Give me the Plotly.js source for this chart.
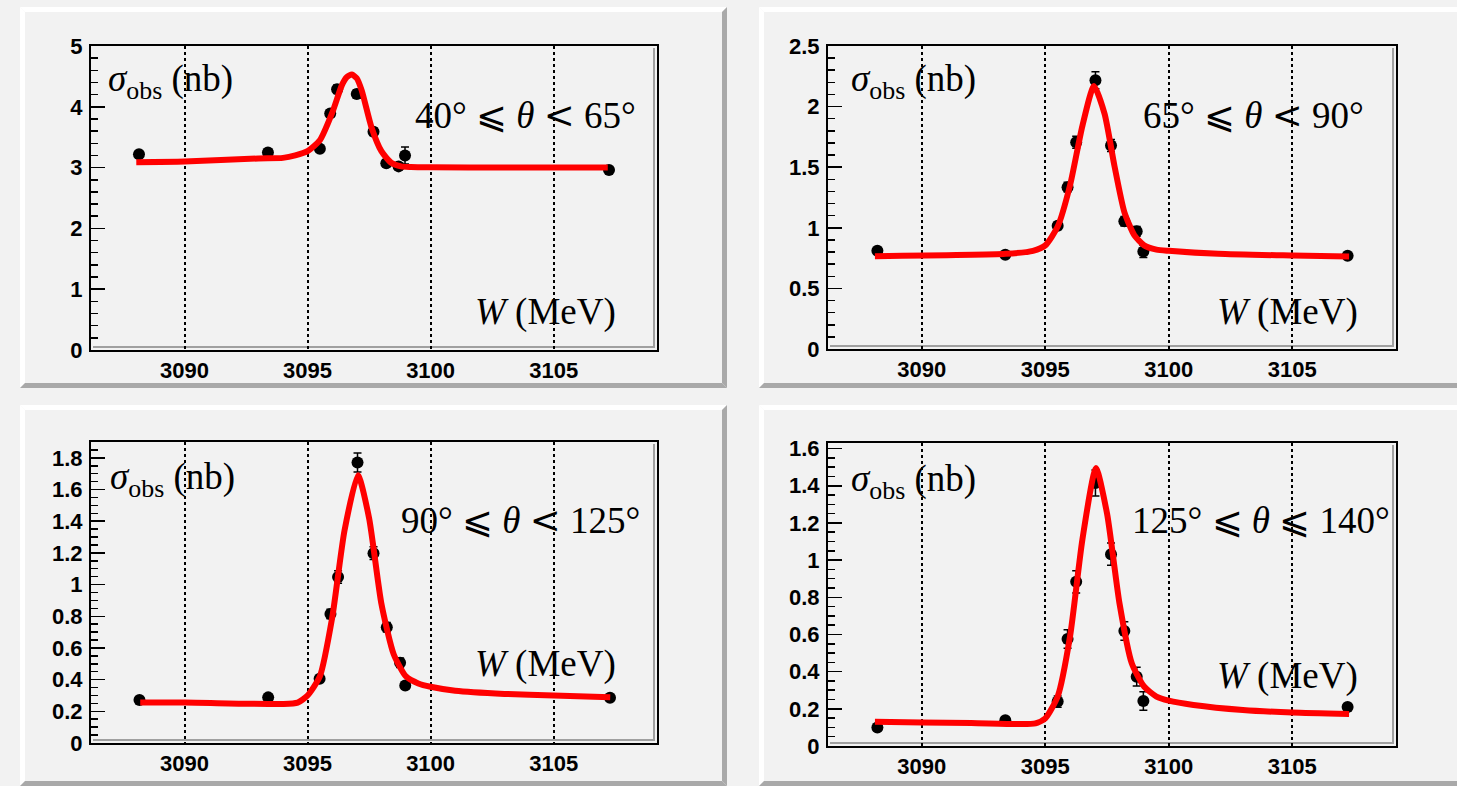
<!DOCTYPE html>
<html>
<head>
<meta charset="utf-8">
<script src="https://cdn.plot.ly/plotly-3.0.1.min.js"></script>
<style>html,body{margin:0;padding:0;background:#f2f2f2;}#chart{width:1457px;height:786px;}</style>
</head>
<body>
<div id="chart"></div>
<script>
// ---------------- data ----------------
const REL_LE = "<span style=\"font-family:'DejaVu Serif'\">⩽</span>";
const REL_LT = "<span style=\"font-family:'DejaVu Serif'\">&lt;</span>";
const angleLabels = [
  "40° " + REL_LE + " <i>θ</i> " + REL_LT + " 65°",
  "65° " + REL_LE + " <i>θ</i> " + REL_LT + " 90°",
  "90° " + REL_LE + " <i>θ</i> " + REL_LT + " 125°",
  "125° " + REL_LE + " <i>θ</i> " + REL_LE + " 140°"
];
const yLabel = "<i>σ</i><sub>obs</sub> (nb)";
const xLabel = "<i>W</i> (MeV)";
const xTickVals = [3090, 3095, 3100, 3105];

// measured points: W (MeV), sigma_obs (nb), error (nb)
const w1 = [3088.15, 3093.39, 3095.50, 3095.92, 3096.20, 3097.00, 3097.68, 3098.20, 3098.70, 3098.96, 3107.25];
const s1 = [3.22, 3.25, 3.31, 3.89, 4.29, 4.21, 3.59, 3.07, 3.02, 3.20, 2.96];
const e1 = [0.05, 0.05, 0.05, 0.06, 0.07, 0.07, 0.06, 0.05, 0.05, 0.14, 0.04];

const w2 = [3088.20, 3093.38, 3095.50, 3095.90, 3096.25, 3097.03, 3097.66, 3098.20, 3098.70, 3098.97, 3107.24];
const s2 = [0.81, 0.777, 1.016, 1.335, 1.706, 2.217, 1.679, 1.054, 0.971, 0.805, 0.769];
const e2 = [0.02, 0.02, 0.03, 0.04, 0.05, 0.07, 0.05, 0.04, 0.04, 0.05, 0.02];

const w3 = [3088.17, 3093.40, 3095.49, 3095.93, 3096.24, 3097.03, 3097.68, 3098.22, 3098.76, 3098.97, 3107.29];
const s3 = [0.271, 0.288, 0.405, 0.814, 1.048, 1.77, 1.198, 0.731, 0.507, 0.363, 0.286];
const e3 = [0.01, 0.01, 0.02, 0.03, 0.04, 0.06, 0.04, 0.03, 0.03, 0.02, 0.01];

const w4 = [3088.20, 3093.38, 3095.50, 3095.90, 3096.25, 3097.03, 3097.66, 3098.20, 3098.70, 3098.97, 3107.24];
const s4 = [0.099, 0.138, 0.239, 0.576, 0.883, 1.415, 1.032, 0.619, 0.373, 0.242, 0.21];
const e4 = [0.01, 0.01, 0.03, 0.05, 0.06, 0.07, 0.06, 0.05, 0.05, 0.05, 0.01];

// fitted curves
const cw1 = [3088.04, 3090, 3093, 3094, 3094.5, 3095, 3095.5, 3096, 3096.4, 3096.6, 3096.8, 3097.0, 3097.2, 3097.6, 3098.0, 3098.4, 3098.8, 3099.2, 3100, 3103, 3107.2];
const cs1 = [3.09, 3.10, 3.15, 3.16, 3.20, 3.27, 3.45, 3.90, 4.36, 4.49, 4.53, 4.47, 4.27, 3.66, 3.27, 3.08, 3.02, 3.01, 3.005, 3.0, 3.0];

const cw2 = [3088.1, 3093.4, 3094.5, 3095, 3095.5, 3096, 3096.5, 3096.97, 3097.4, 3097.8, 3098.2, 3098.6, 3099, 3099.5, 3100, 3102, 3105, 3107.3];
const cs2 = [0.766, 0.785, 0.81, 0.855, 1.01, 1.35, 1.84, 2.17, 1.94, 1.51, 1.13, 0.94, 0.855, 0.82, 0.81, 0.785, 0.771, 0.763];

const cw3 = [3088.2, 3090, 3094, 3094.6, 3095, 3095.5, 3096, 3096.5, 3097.05, 3097.5, 3098, 3098.5, 3099, 3099.5, 3100, 3101, 3103, 3105, 3107.3];
const cs3 = [0.255, 0.255, 0.246, 0.255, 0.30, 0.42, 0.79, 1.34, 1.69, 1.42, 0.88, 0.56, 0.42, 0.376, 0.355, 0.33, 0.31, 0.30, 0.288];

const cw4 = [3088.1, 3090, 3092, 3094, 3094.6, 3095, 3095.5, 3096, 3096.5, 3097.05, 3097.5, 3098, 3098.5, 3099, 3099.5, 3100, 3101, 3103, 3105, 3107.3];
const cs4 = [0.131, 0.127, 0.124, 0.118, 0.122, 0.149, 0.266, 0.589, 1.11, 1.495, 1.25, 0.77, 0.445, 0.32, 0.266, 0.244, 0.221, 0.194, 0.18, 0.172];

// axis settings per panel
const yRanges = [[0, 5], [0, 2.5], [0, 1.9], [0, 1.63]];
const yMajor = [1, 0.5, 0.2, 0.2];
const yMinor = [0.2, 0.1, 0.05, 0.05];

// ---------------- layout helpers ----------------
const W = 1457, H = 786;
const px = v => v / W;
const py = v => 1 - v / H;

// plot-area boxes in pixels [left, right, top, bottom]
const boxes = [[91, 657, 46, 350], [828, 1396, 46, 349], [91, 657, 442, 743], [828, 1396, 443, 746]];
// panel boxes (pads) in pixels [left, right, top, bottom]
const pads = [[20, 727, 7, 388], [759, 1462, 7, 388], [20, 727, 405, 786], [759, 1462, 405, 786]];

const ws = [w1, w2, w3, w4], ss = [s1, s2, s3, s4], es = [e1, e2, e3, e4];
const cws = [cw1, cw2, cw3, cw4], css = [cs1, cs2, cs3, cs4];

const traces = [];
const layout = {
  width: W, height: H,
  margin: {l: 0, r: 0, t: 0, b: 0},
  paper_bgcolor: '#f2f2f2',
  plot_bgcolor: 'rgba(0,0,0,0)',
  showlegend: false,
  shapes: [],
  annotations: []
};

const tickFont = {family: 'Liberation Sans, Arial, sans-serif', size: 22, color: 'black', weight: 'bold'};
const serif = {family: 'Liberation Serif, DejaVu Serif, serif', size: 37, color: 'black'};

// annotation pixel positions: [sigma left x, sigma y], [angle right x, y], [W right x, y]
const annPos = [
  [[106, 81], [638, 116], [618, 312]],
  [[849, 81], [1366, 116], [1360, 312]],
  [[108, 479], [642, 520], [618, 664]],
  [[849, 481], [1392, 520], [1360, 676]]
];

function path(pts) {
  return 'M' + pts.map(p => px(p[0]) + ',' + py(p[1])).join('L') + 'Z';
}
function seg(x0, y0, x1, y1, color, w) {
  return {type: 'line', xref: 'paper', yref: 'paper', layer: 'below', x0: px(x0), y0: py(y0), x1: px(x1), y1: py(y1),
    line: {color: color, width: w}};
}

for (let i = 0; i < 4; i++) {
  const sfx = i === 0 ? '' : String(i + 1);
  const xa = 'x' + sfx, ya = 'y' + sfx;
  const b = boxes[i];
  layout['xaxis' + sfx] = {
    domain: [px(b[0]), px(b[1])],
    anchor: ya,
    range: [3086.2, 3109.2],
    tickvals: xTickVals,
    ticks: '',
    showgrid: true, gridcolor: 'black', gridwidth: 2, griddash: 'dot',
    zeroline: false,
    showline: true, linecolor: 'black', linewidth: 2, mirror: true,
    tickfont: tickFont,
    fixedrange: true
  };
  layout['yaxis' + sfx] = {
    domain: [py(b[3]), py(b[2])],
    anchor: xa,
    range: yRanges[i],
    dtick: yMajor[i], tick0: 0,
    ticks: 'inside', ticklen: 14, tickwidth: 1.5, tickcolor: 'black',
    minor: {dtick: yMinor[i], tick0: 0, ticks: 'inside', ticklen: 7, tickwidth: 1.5, tickcolor: 'black', showgrid: false},
    showgrid: false, zeroline: false,
    showline: true, linecolor: 'black', linewidth: 2, mirror: true,
    tickfont: tickFont,
    ticklabelstandoff: 2,
    fixedrange: true
  };

  traces.push({
    type: 'scatter', mode: 'markers', x: ws[i], y: ss[i], xaxis: xa, yaxis: ya,
    marker: {color: 'black', size: 12},
    error_y: {type: 'data', array: es[i], visible: true, color: 'black', thickness: 1.5, width: 4}
  });
  traces.push({
    type: 'scatter', mode: 'lines', x: cws[i], y: css[i], xaxis: xa, yaxis: ya,
    line: {color: '#ff0000', width: 6, shape: 'spline', smoothing: 0.6}
  });

  // pad bevels
  const p = pads[i], bw = 5;
  layout.shapes.push({type: 'path', xref: 'paper', yref: 'paper', layer: 'below', line: {width: 0}, fillcolor: '#ffffff',
    path: path([[p[0], p[2]], [p[1], p[2]], [p[1] - bw, p[2] + bw], [p[0] + bw, p[2] + bw]])});
  layout.shapes.push({type: 'path', xref: 'paper', yref: 'paper', layer: 'below', line: {width: 0}, fillcolor: '#ffffff',
    path: path([[p[0], p[2]], [p[0] + bw, p[2] + bw], [p[0] + bw, p[3] - bw], [p[0], p[3]]])});
  layout.shapes.push({type: 'path', xref: 'paper', yref: 'paper', layer: 'below', line: {width: 0}, fillcolor: '#a9a9a9',
    path: path([[p[1], p[2]], [p[1], p[3]], [p[1] - bw, p[3] - bw], [p[1] - bw, p[2] + bw]])});
  layout.shapes.push({type: 'path', xref: 'paper', yref: 'paper', layer: 'below', line: {width: 0}, fillcolor: '#a9a9a9',
    path: path([[p[0], p[3]], [p[1], p[3]], [p[1] - bw, p[3] - bw], [p[0] + bw, p[3] - bw]])});

  // frame inner bevel (grey on right and bottom, just inside the black frame)
  layout.shapes.push(seg(b[1] - 3, b[2] + 2, b[1] - 3, b[3] - 2, '#a0a0a0', 2));
  layout.shapes.push(seg(b[0] + 2, b[3] - 3, b[1] - 2, b[3] - 3, '#a0a0a0', 2));

  const a = annPos[i];
  layout.annotations.push({xref: 'paper', yref: 'paper', x: px(a[0][0]), y: py(a[0][1]), xanchor: 'left', yanchor: 'middle',
    text: yLabel, showarrow: false, font: serif});
  layout.annotations.push({xref: 'paper', yref: 'paper', x: px(a[1][0]), y: py(a[1][1]), xanchor: 'right', yanchor: 'middle',
    text: angleLabels[i], showarrow: false, font: serif});
  layout.annotations.push({xref: 'paper', yref: 'paper', x: px(a[2][0]), y: py(a[2][1]), xanchor: 'right', yanchor: 'middle',
    text: xLabel, showarrow: false, font: serif});
}

Plotly.newPlot('chart', traces, layout, {displayModeBar: false, staticPlot: true});
</script>
</body>
</html>
